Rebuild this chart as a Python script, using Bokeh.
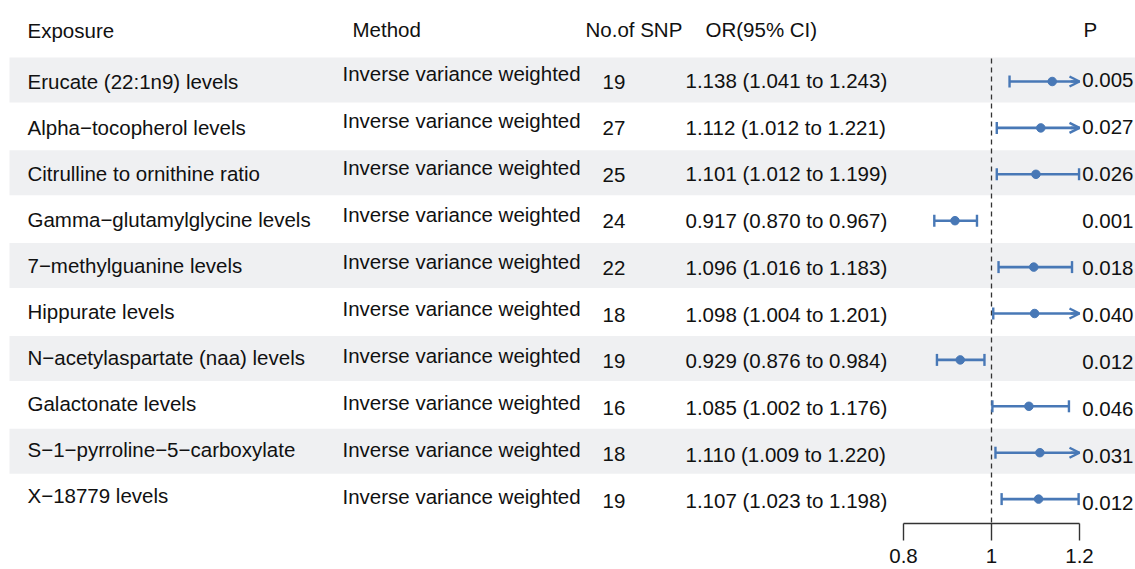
from bokeh.plotting import figure
from bokeh.models import ColumnDataSource, Range1d, Arrow, OpenHead
from bokeh.embed import file_html
from bokeh.resources import INLINE
from bokeh.core.properties import value

# ---------------- data ----------------
headers = ["Exposure", "Method", "No.of SNP", "OR(95% CI)", "P"]
exposures = [
    "Erucate (22:1n9) levels",
    "Alpha\u2212tocopherol levels",
    "Citrulline to ornithine ratio",
    "Gamma\u2212glutamylglycine levels",
    "7\u2212methylguanine levels",
    "Hippurate levels",
    "N\u2212acetylaspartate (naa) levels",
    "Galactonate levels",
    "S\u22121\u2212pyrroline\u22125\u2212carboxylate",
    "X\u221218779 levels",
]
methods = ["Inverse variance weighted"] * 10
n_snp = [19, 27, 25, 24, 22, 18, 19, 16, 18, 19]
or_est = [1.138, 1.112, 1.101, 0.917, 1.096, 1.098, 0.929, 1.085, 1.110, 1.107]
ci_low = [1.041, 1.012, 1.012, 0.870, 1.016, 1.004, 0.876, 1.002, 1.009, 1.023]
ci_high = [1.243, 1.221, 1.199, 0.967, 1.183, 1.201, 0.984, 1.176, 1.220, 1.198]
p_values = ["0.005", "0.027", "0.026", "0.001", "0.018", "0.040", "0.012", "0.046", "0.031", "0.012"]
axis_ticks = [0.8, 1.0, 1.2]
axis_labels = ["0.8", "1", "1.2"]
ref_line = 1.0
clip_lo, clip_hi = 0.8, 1.2

# ---------------- layout helpers ----------------
REF_W, REF_H = 1135, 569
X_PER, X_ONE = 440.0, 991.0
ROW_PITCH, ROW1_Y = 46.4, 81.0


def X(px):
    return 1 + (px - X_ONE) / X_PER


def Y(py):
    return 1 + (py - ROW1_Y) / ROW_PITCH


BLUE = "#4878B6"
TXT = "#111111"
FONT = value("Liberation Sans")
FS = "20.5px"

n = len(exposures)
rows = list(range(1, n + 1))

p = figure(width=REF_W, height=REF_H,
           x_range=Range1d(X(0), X(REF_W)), y_range=Range1d(Y(REF_H), Y(0)),
           x_axis_type=None, y_axis_type=None,
           output_backend="svg", toolbar_location=None,
           min_border=0, min_border_left=0, min_border_right=0,
           min_border_top=0, min_border_bottom=0)
p.outline_line_color = None
p.background_fill_color = "white"
p.border_fill_color = "white"

# ---------------- stripes ----------------
gray_rows = [r for r in rows if r % 2 == 1]
stripe_c = [Y(79.5 + (r - 1) * ROW_PITCH) for r in gray_rows]
half = 22.5 / ROW_PITCH
p.quad(left=X(9), right=X(REF_W), bottom=[c + half for c in stripe_c],
       top=[c - half for c in stripe_c], fill_color="#EFF0F2", line_color=None)

# ---------------- text columns ----------------
def col_text(xpx, ys, texts, align="left"):
    src = ColumnDataSource(dict(x=[X(xpx)] * len(texts), y=ys, t=texts))
    p.text(x="x", y="y", text="t", source=src, text_font=FONT, text_font_size=FS,
           text_baseline="middle", text_align=align, text_color=TXT)


k = list(range(n))
col_text(27, [Y(81 + i * 46.0) for i in k], exposures)
col_text(342, [Y(72.5 + i * 47.1) for i in k], methods)
col_text(602, [Y(81 + i * 46.6) for i in k], [str(v) for v in n_snp])
or_txt = [f"{o:.3f} ({l:.3f} to {h:.3f})" for o, l, h in zip(or_est, ci_low, ci_high)]
col_text(685, [Y(80 + i * 46.7) for i in k], or_txt)
col_text(1133, [Y(79 + i * 47.1) for i in k], p_values, align="right")

# headers
hx = [27, 352, 585, 705, 1083]
hy = [30, 29, 29, 29, 29]
for xx, yy, t in zip(hx, hy, headers):
    col_text(xx, [Y(yy)], [t])

# ---------------- forest ----------------
p.segment(x0=ref_line, y0=Y(58), x1=ref_line, y1=Y(523), line_color="#333333",
          line_width=1.3, line_dash="5 4")

seg_hi = [min(h, clip_hi) for h in ci_high]
p.segment(x0=ci_low, y0=rows, x1=seg_hi, y1=rows, line_color=BLUE, line_width=2.6)

cap = 6 / ROW_PITCH
p.segment(x0=ci_low, y0=[r - cap for r in rows], x1=ci_low, y1=[r + cap for r in rows],
          line_color=BLUE, line_width=2.4)
cap_x = [h for h in ci_high if h <= clip_hi]
cap_r = [r for r, h in zip(rows, ci_high) if h <= clip_hi]
p.segment(x0=cap_x, y0=[r - cap for r in cap_r], x1=cap_x, y1=[r + cap for r in cap_r],
          line_color=BLUE, line_width=2.4)

arr_r = [r for r, h in zip(rows, ci_high) if h > clip_hi]
arr_src = ColumnDataSource(dict(xs=[clip_hi - 0.02] * len(arr_r), xe=[clip_hi] * len(arr_r),
                                y=arr_r))
p.add_layout(Arrow(end=OpenHead(size=10, line_color=BLUE, line_width=2.4),
                   x_start="xs", y_start="y", x_end="xe", y_end="y",
                   line_color=BLUE, line_width=2.6, source=arr_src))

p.scatter(x=or_est, y=rows, size=8.5, fill_color=BLUE, line_color=BLUE)

# ---------------- x axis (drawn) ----------------
p.segment(x0=axis_ticks[0], y0=Y(523), x1=axis_ticks[-1], y1=Y(523),
          line_color="#333333", line_width=1.4)
p.segment(x0=axis_ticks, y0=[Y(523)] * 3, x1=axis_ticks, y1=[Y(540)] * 3,
          line_color="#333333", line_width=1.4)
lab_src = ColumnDataSource(dict(x=axis_ticks, y=[Y(548)] * 3, t=axis_labels))
p.text(x="x", y="y", text="t", source=lab_src, text_font=FONT, text_font_size=FS,
       text_baseline="top", text_align="center", text_color=TXT)

open("out.html", "w").write(file_html(p, INLINE))
